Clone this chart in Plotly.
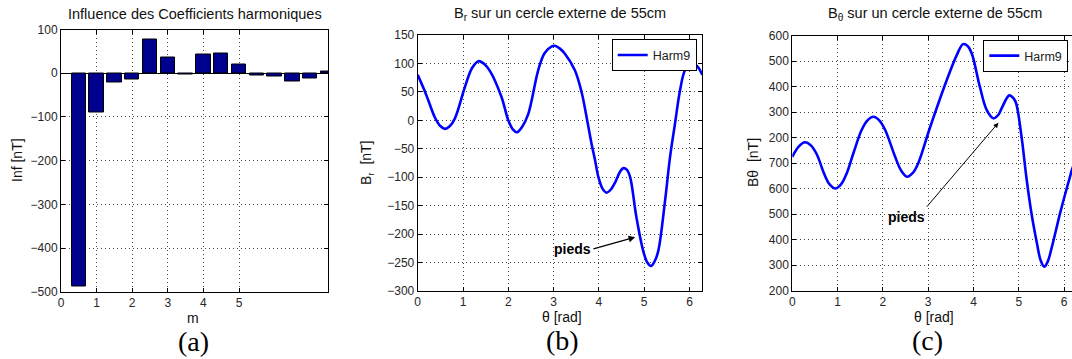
import plotly.graph_objects as go

W, H = 1072, 359

# ---------------- Data ----------------
# (a) harmonic coefficient influence
m_positions = [0.5, 1.0, 1.5, 2.0, 2.5, 3.0, 3.5, 4.0, 4.5, 5.0, 5.5, 6.0, 6.5, 7.0, 7.5]
influence_nT = [-487, -91, -22, -15, 78, 36, -3, 42, 46, 21, -5, -7, -20, -11, 5]
a_xticks = [0, 1, 2, 3, 4, 5]
a_yticks = [-500, -400, -300, -200, -100, 0, 100]

# (b) Br on external circle of 55cm
theta_b = [0.00, 0.12, 0.235, 0.38, 0.50, 0.60, 0.70, 0.82, 1.04, 1.20, 1.34, 1.47, 1.60,
           1.85, 2.00, 2.10, 2.19, 2.30, 2.44, 2.66, 2.80, 2.96, 3.03, 3.14, 3.25, 3.47,
           3.62, 3.73, 3.84, 3.91, 3.99, 4.08, 4.17, 4.27, 4.36, 4.47, 4.54, 4.62, 4.69,
           4.83, 4.98, 5.07, 5.15, 5.23, 5.31, 5.46, 5.57, 5.68, 5.79, 5.90, 6.03, 6.16, 6.283]
br_nT = [80, 58, 35, 5, -10, -15, -11, 3, 58, 92, 104, 99, 86,
         41, 0, -16, -21, -12, 11, 88, 118, 130, 131, 126, 117, 88,
         49, 5, -42, -68, -100, -120, -127, -121, -109, -90, -84, -87, -100,
         -171, -230, -250, -256, -248, -230, -142, -65, -6, 52, 88, 100, 96, 80]
b_yticks = [-300, -250, -200, -150, -100, -50, 0, 50, 100, 150]
b_xticks = [0, 1, 2, 3, 4, 5, 6]

# (c) Btheta on external circle of 55cm
theta_c = [0.00, 0.14, 0.28, 0.41, 0.54, 0.70, 0.82, 0.95, 1.08, 1.20, 1.35, 1.53, 1.66,
           1.79, 1.92, 2.05, 2.27, 2.40, 2.53, 2.66, 2.78, 3.04, 3.41, 3.63, 3.77, 3.87,
           3.96, 4.14, 4.29, 4.44, 4.55, 4.62, 4.79, 4.88, 4.94, 5.06, 5.17, 5.28, 5.40,
           5.48, 5.56, 5.64, 5.73, 5.91, 6.04, 6.13, 6.17, 6.283]
btheta_nT = [725, 765, 782, 770, 735, 660, 618, 601, 618, 660, 740, 830, 868,
             882, 868, 830, 725, 672, 647, 662, 700, 840, 1026, 1124, 1167, 1160,
             1131, 1000, 909, 876, 890, 915, 966, 955, 935, 804, 640, 503, 386,
             320, 294, 315, 372, 503, 590, 647, 673, 725]
c_tickvals = [200, 300, 400, 500, 600, 700, 800, 900, 1000, 1100, 1200]
c_ticktext = ["200", "300", "400", "500", "600", "700", "200", "300", "400", "500", "600"]
c_xticks = [0, 1, 2, 3, 4, 5, 6]

# ---------------- Helpers ----------------
FONT = "Liberation Sans"
SERIF = "Liberation Serif"
TICKFONT = dict(family=FONT, size=12, color="#262626")


def px(x):
    return x / W


def py(y):
    return 1 - y / H


def axis_style(**kw):
    d = dict(showline=True, linecolor="black", linewidth=1, mirror="ticks",
             ticks="inside", ticklen=4, tickcolor="black", tickwidth=1,
             showgrid=True, gridcolor="#444", griddash="1px,3px", gridwidth=1,
             zeroline=False, tickfont=TICKFONT, automargin=False)
    d.update(kw)
    return d


fig = go.Figure()

fig.add_trace(go.Bar(x=m_positions, y=influence_nT, width=0.4,
                     marker=dict(color="#00008F", line=dict(color="black", width=1)),
                     showlegend=False, xaxis="x", yaxis="y"))

fig.add_trace(go.Scatter(x=theta_b, y=br_nT, mode="lines", name="Harm9",
                         line=dict(color="#0000FF", width=2.6, shape="spline", smoothing=1.0),
                         xaxis="x2", yaxis="y2", legend="legend"))

fig.add_trace(go.Scatter(x=theta_c, y=btheta_nT, mode="lines", name="Harm9",
                         line=dict(color="#0000FF", width=2.6, shape="spline", smoothing=1.0),
                         xaxis="x3", yaxis="y3", legend="legend2"))

legend_common = dict(bgcolor="white", bordercolor="black", borderwidth=1,
                     font=dict(family=FONT, size=12.5, color="#222"),
                     itemwidth=30, tracegroupgap=0)

fig.update_layout(
    template="none",
    width=W, height=H, autosize=False,
    margin=dict(l=0, r=0, t=0, b=0, pad=0),
    paper_bgcolor="white", plot_bgcolor="white",
    bargap=0,
    xaxis=axis_style(domain=[px(61), px(328)], range=[0, 7.5], tickvals=a_xticks, anchor="y"),
    yaxis=axis_style(domain=[py(291.7), py(29.5)], range=[-500, 100], tickvals=a_yticks,
                     anchor="x", zeroline=True, zerolinecolor="black", zerolinewidth=1),
    xaxis2=axis_style(domain=[px(417.7), px(702.3)], range=[0, 6.2832], tickvals=b_xticks, anchor="y2"),
    yaxis2=axis_style(domain=[py(291), py(35)], range=[-300, 150], tickvals=b_yticks, anchor="x2"),
    xaxis3=axis_style(domain=[px(792.3), 1.0], range=[0, 6.174], tickvals=c_xticks, anchor="y3"),
    yaxis3=axis_style(domain=[py(290.7), py(35.7)], range=[200, 1200], tickvals=c_tickvals,
                      ticktext=c_ticktext, anchor="x3", mirror=False),
    legend=dict(x=px(696.7), y=py(39.3), xanchor="right", yanchor="top", **legend_common),
    legend2=dict(x=px(983.3), y=py(40), xanchor="left", yanchor="top", **legend_common),
)

annotations = []


def text_ann(x, y, text, size=12, family=FONT, angle=0, color="#111"):
    annotations.append(dict(x=px(x), y=py(y), xref="paper", yref="paper", text=text,
                            showarrow=False, textangle=angle, xanchor="center", yanchor="middle",
                            font=dict(family=family, size=size, color=color)))


# titles
text_ann(195, 14, "Influence des Coefficients harmoniques", size=14.5)
text_ann(560, 14, "B<sub>r</sub> sur un cercle externe de 55cm", size=14.5)
text_ann(935, 14, "B<sub>θ</sub> sur un cercle externe de 55cm", size=14.5)
# x labels
text_ann(193, 318, "m", size=14)
text_ann(562, 317, "θ [rad]", size=14)
text_ann(934, 317, "θ [rad]", size=14)
# y labels
text_ann(17, 160, "Inf [nT]", size=14, angle=-90)
text_ann(367, 163, "B<sub>r</sub>  [nT]", size=14, angle=-90)
text_ann(753, 163, "Bθ  [nT]", size=14, angle=-90)
# panel captions
text_ann(193, 341, "(a)", size=28, family=SERIF, color="black")
text_ann(562, 340, "(b)", size=28, family=SERIF, color="black")
text_ann(928, 340, "(c)", size=28, family=SERIF, color="black")

# "pieds" labels with arrows (head in data coords, text offset in pixels)
annotations.append(dict(x=4.80, y=-205.5, xref="x2", yref="y2", text="<b>pieds</b>",
                        showarrow=True, ax=593.3 - 635.0, ay=249.0 - 237.3,
                        xanchor="right", yanchor="middle",
                        font=dict(family=FONT, size=14, color="black"),
                        arrowhead=2, arrowsize=1, arrowwidth=1.3, arrowcolor="black"))
annotations.append(dict(x=4.55, y=858.8, xref="x3", yref="y3", text="<b>pieds</b>",
                        showarrow=True, ax=926.7 - 998.3, ay=206.7 - 122.7,
                        xanchor="right", yanchor="top",
                        font=dict(family=FONT, size=14, color="black"),
                        arrowhead=2, arrowsize=1, arrowwidth=1.0, arrowcolor="black"))

fig.update_layout(annotations=annotations)

fig.write_html("out.html", config={"displayModeBar": False},
               post_script="document.body.style.margin='0px';document.body.style.overflow='hidden';")
